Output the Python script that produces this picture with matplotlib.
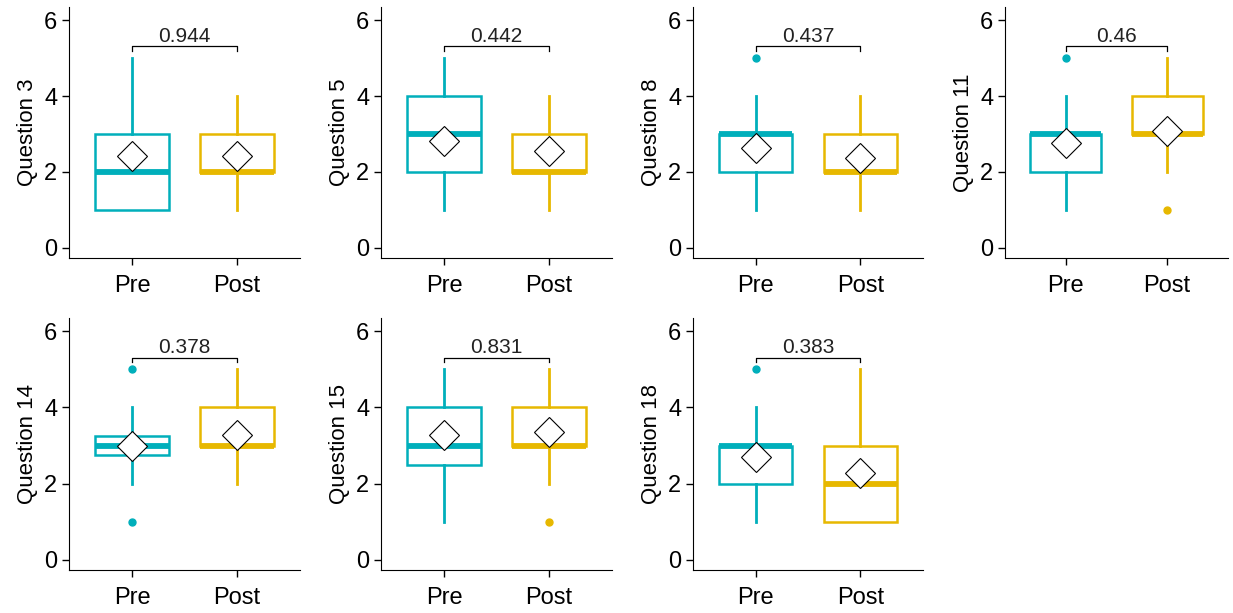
import numpy as np
import matplotlib.pyplot as plt

plt.rcParams['font.family'] = ['Liberation Sans', 'DejaVu Sans']

questions = ["Question 3", "Question 5", "Question 8", "Question 11",
             "Question 14", "Question 15", "Question 18"]
p_values = ["0.944", "0.442", "0.437", "0.46", "0.378", "0.831", "0.383"]
groups = ["Pre", "Post"]

pre_q1 = [1, 2, 2, 2, 2.75, 2.5, 2]
pre_med = [2, 3, 3, 3, 3, 3, 3]
pre_q3 = [3, 4, 3, 3, 3.25, 4, 3]
pre_lo = [1, 1, 1, 1, 2, 1, 1]
pre_hi = [5, 5, 4, 4, 4, 5, 4]
pre_mean = [2.43, 2.82, 2.64, 2.75, 2.99, 3.27, 2.70]
pre_out = [[], [], [5], [5], [1, 5], [], [5]]

post_q1 = [2, 2, 2, 3, 3, 3, 1]
post_med = [2, 2, 2, 3, 3, 3, 2]
post_q3 = [3, 3, 3, 4, 4, 4, 3]
post_lo = [1, 1, 1, 2, 2, 2, 1]
post_hi = [4, 4, 4, 5, 5, 5, 5]
post_mean = [2.43, 2.55, 2.36, 3.08, 3.27, 3.36, 2.28]
post_out = [[], [], [], [1], [], [1], []]

colors = ["#00AFBB", "#E7B800"]

W, H = 1233, 613
fig = plt.figure(figsize=(W / 100, H / 100), dpi=100)

# axes boxes in pixels: (left, right) per column, (top, bottom) per row
cols = [(69, 300), (381, 612), (693, 923), (1005, 1228)]
rows = [(7, 258), (318, 570)]

for i, q in enumerate(questions):
    r, c = divmod(i, 4)
    l, rr = cols[c]
    t, b = rows[r]
    ax = fig.add_axes([l / W, 1 - b / H, (rr - l) / W, (b - t) / H])

    stats = [
        dict(q1=pre_q1[i], med=pre_med[i], q3=pre_q3[i], whislo=pre_lo[i],
             whishi=pre_hi[i], mean=pre_mean[i], fliers=pre_out[i]),
        dict(q1=post_q1[i], med=post_med[i], q3=post_q3[i], whislo=post_lo[i],
             whishi=post_hi[i], mean=post_mean[i], fliers=post_out[i]),
    ]
    for j, s in enumerate(stats):
        col = colors[j]
        ax.bxp([s], positions=[j + 1], widths=0.7, showcaps=False,
               showmeans=True, patch_artist=True,
               boxprops=dict(facecolor="white", edgecolor=col, linewidth=1.8),
               whiskerprops=dict(color=col, linewidth=2.0),
               medianprops=dict(color=col, linewidth=4.2, solid_capstyle="butt"),
               flierprops=dict(marker="o", markerfacecolor=col, markeredgecolor=col,
                               markersize=5),
               meanprops=dict(marker="D", markerfacecolor="white",
                              markeredgecolor="black", markeredgewidth=0.8,
                              markersize=15))

    # significance bracket
    ax.plot([1, 1, 2, 2], [5.2, 5.31, 5.31, 5.2], color="black", linewidth=0.9)
    ax.text(1.5, 5.33, p_values[i], ha="center", va="bottom", fontsize=15,
            color="#222222")

    ax.set_xlim(0.4, 2.6)
    ax.set_ylim(-0.27, 6.35)
    ax.set_xticks([1, 2])
    ax.set_xticklabels(groups)
    ax.set_yticks([0, 2, 4, 6])
    ax.set_ylabel(q, fontsize=16, labelpad=4)
    ax.tick_params(labelsize=17, length=5, width=1, colors="black")
    ax.tick_params(axis="x", pad=7)
    ax.spines["top"].set_visible(False)
    ax.spines["right"].set_visible(False)

fig.savefig("out.png", dpi=100)
